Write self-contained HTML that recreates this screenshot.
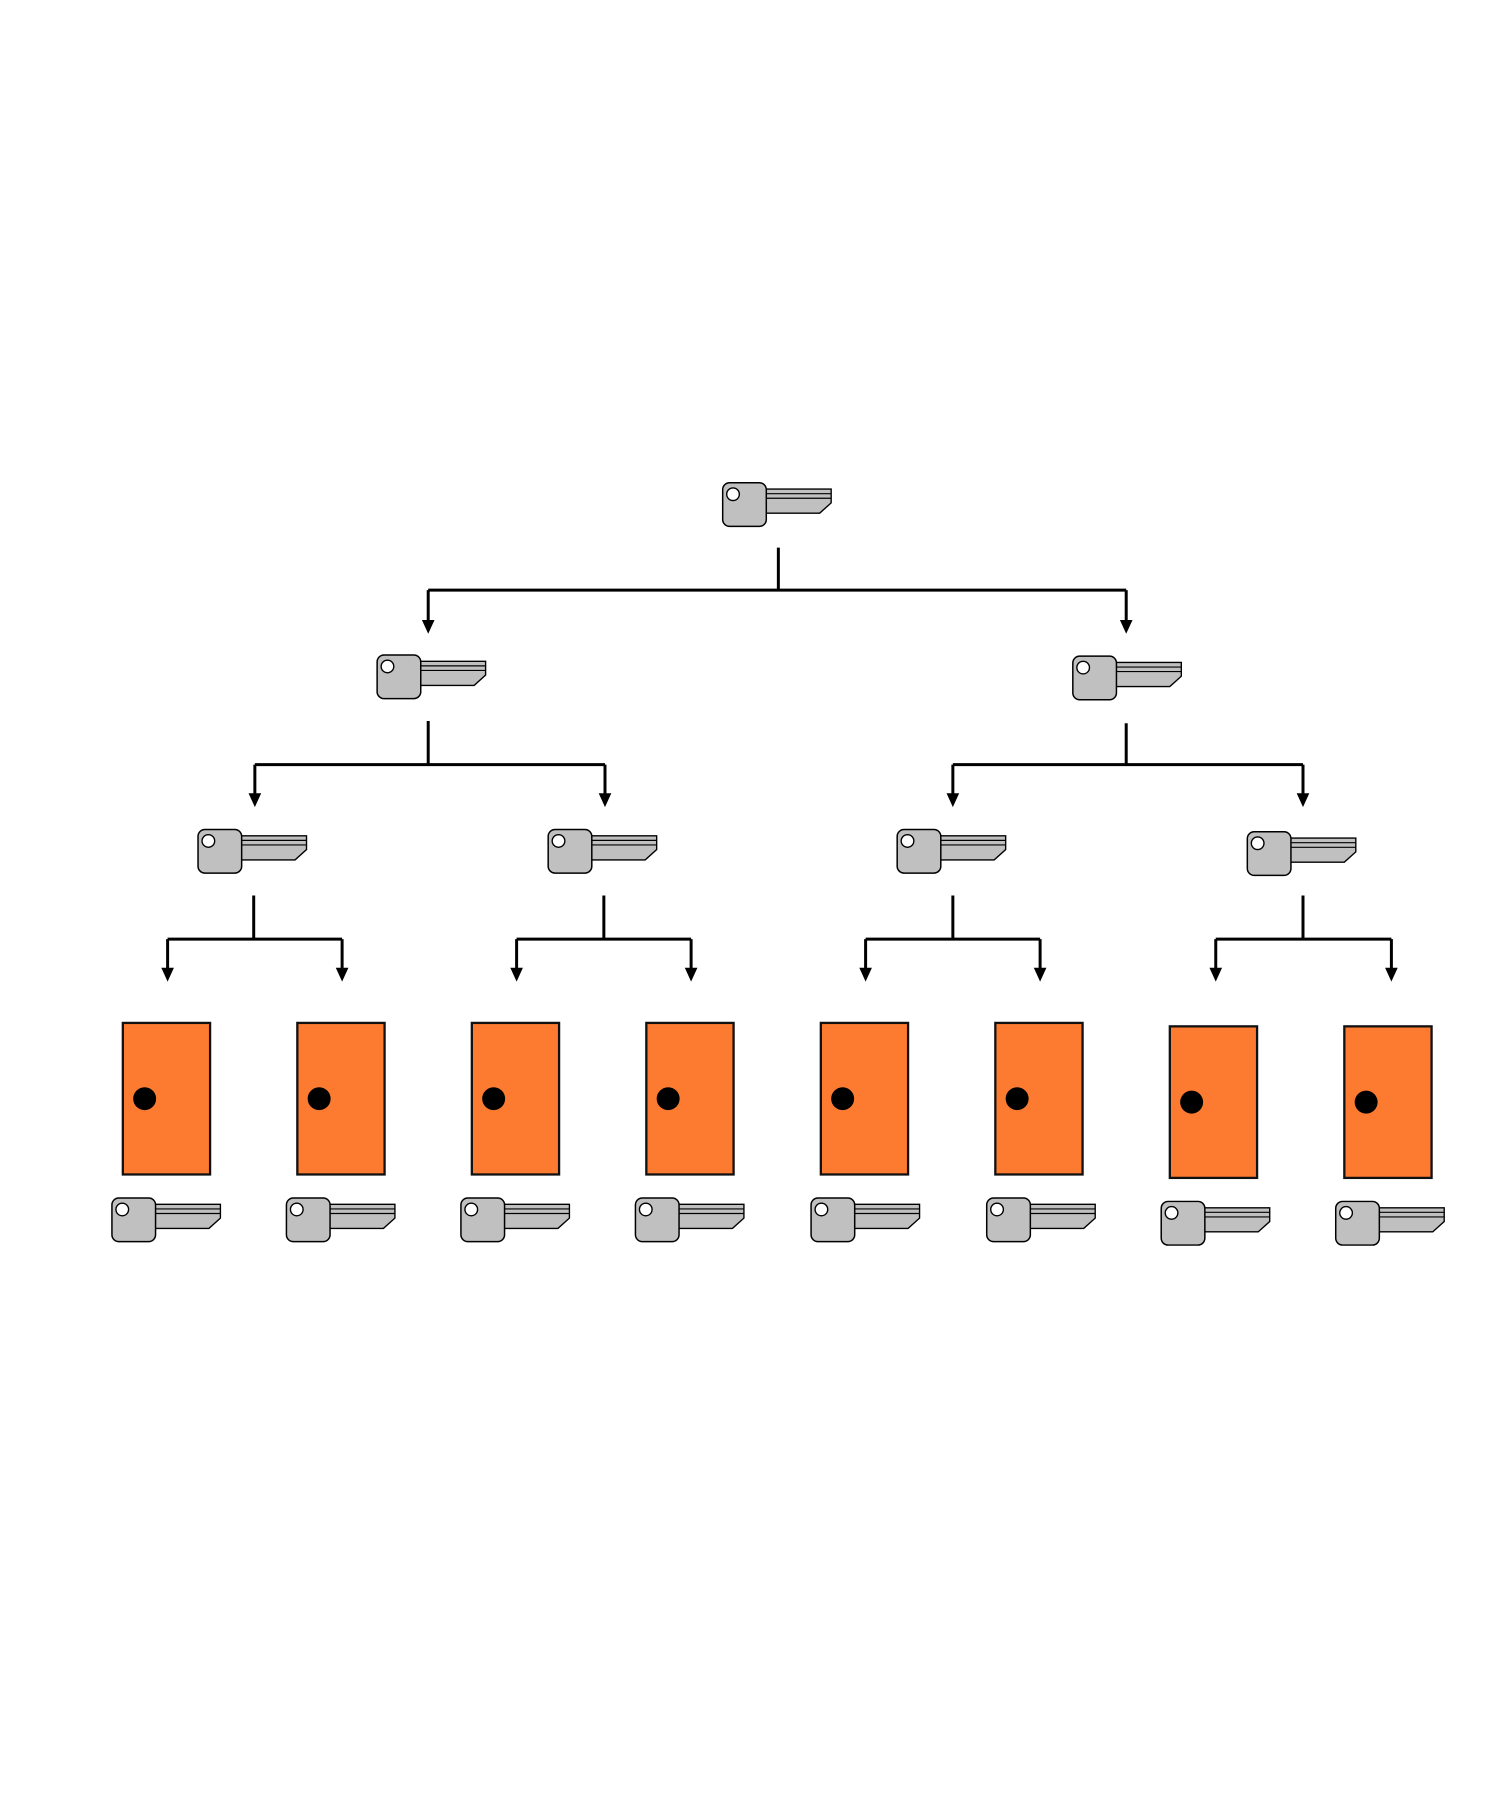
<!DOCTYPE html>
<html><head><meta charset="utf-8"><style>html,body{margin:0;padding:0;background:#fff}svg{display:block}</style></head>
<body>
<svg width="1500" height="1799" viewBox="0 0 1306.6 1567" preserveAspectRatio="none" xmlns="http://www.w3.org/2000/svg">
<defs>
<g id="k">
<polygon points="37,6 95,6 95,18 85,27 37,27" fill="#c0c0c0" stroke="#000" stroke-width="1.2"/>
<line x1="37" y1="10" x2="95" y2="10" stroke="#000" stroke-width="1"/>
<line x1="37" y1="14" x2="95" y2="14" stroke="#000" stroke-width="1"/>
<rect x="0.5" y="0.5" width="38" height="38" rx="6" fill="#c0c0c0" stroke="#000" stroke-width="1.3"/>
<circle cx="9.5" cy="10.5" r="5.5" fill="#fff" stroke="#000" stroke-width="1.2"/>
</g>
<g id="d">
<rect x="0" y="0" width="76" height="132" fill="#fd7b30" stroke="#111" stroke-width="2"/>
<circle cx="19" cy="66" r="10" fill="#000"/>
</g>
<polygon id="a" points="-5.5,-12 5.5,-12 0,0" fill="#000"/>
</defs>
<g stroke="#000" stroke-width="2.6" fill="none">
<path d="M678 477V514M373 514H981M373 514V542M981 514V542"/>
<path d="M373 628V666M222 666H527M222 666V693M527 666V693"/>
<path d="M981 630V666M830 666H1135M830 666V693M1135 666V693"/>
<path d="M221 780V818M146 818H298M146 818V845M298 818V845"/>
<path d="M526 780V818M450 818H602M450 818V845M602 818V845"/>
<path d="M830 780V818M754 818H906M754 818V845M906 818V845"/>
<path d="M1135 780V818M1059 818H1212M1059 818V845M1212 818V845"/>
</g>
<use href="#a" x="373" y="552"/><use href="#a" x="981" y="552"/>
<use href="#a" x="222" y="703"/><use href="#a" x="527" y="703"/>
<use href="#a" x="830" y="703"/><use href="#a" x="1135" y="703"/>
<use href="#a" x="146" y="855"/><use href="#a" x="298" y="855"/>
<use href="#a" x="450" y="855"/><use href="#a" x="602" y="855"/>
<use href="#a" x="754" y="855"/><use href="#a" x="906" y="855"/>
<use href="#a" x="1059" y="855"/><use href="#a" x="1212" y="855"/>
<use href="#k" x="629" y="420"/>
<use href="#k" x="328" y="570"/><use href="#k" x="934" y="571"/>
<use href="#k" x="172" y="722"/><use href="#k" x="477" y="722"/>
<use href="#k" x="781" y="722"/><use href="#k" x="1086" y="724"/>
<use href="#d" x="107" y="891"/><use href="#d" x="259" y="891"/>
<use href="#d" x="411" y="891"/><use href="#d" x="563" y="891"/>
<use href="#d" x="715" y="891"/><use href="#d" x="867" y="891"/>
<use href="#d" x="1019" y="894"/><use href="#d" x="1171" y="894"/>
<use href="#k" x="97" y="1043"/><use href="#k" x="249" y="1043"/>
<use href="#k" x="401" y="1043"/><use href="#k" x="553" y="1043"/>
<use href="#k" x="706" y="1043"/><use href="#k" x="859" y="1043"/>
<use href="#k" x="1011" y="1046"/><use href="#k" x="1163" y="1046"/>
</svg>
</body></html>
